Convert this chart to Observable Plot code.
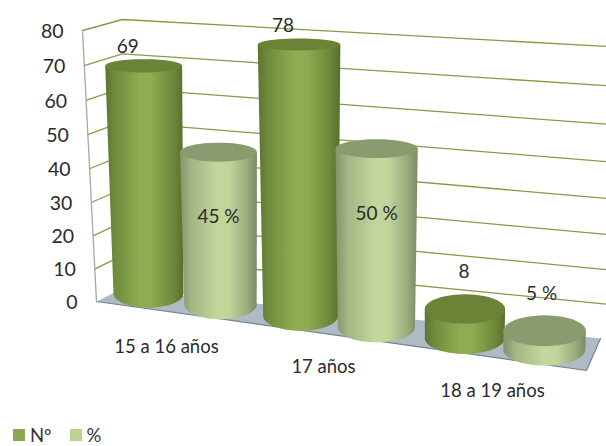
<!DOCTYPE html>
<html><head><meta charset="utf-8">
<script src="https://cdn.jsdelivr.net/npm/d3@7"></script>
<script src="https://cdn.jsdelivr.net/npm/@observablehq/plot@0.6"></script>
<style>
html,body{margin:0;padding:0;background:#fff;overflow:hidden}
svg{display:block}
#legend{display:flex;align-items:center;height:22px;font:18.5px Lato,sans-serif;color:#333;padding-left:13px}
#legend i{display:inline-block;width:12px;height:12px;margin-right:5px}
#legend span{margin-right:18px}
</style></head><body>
<div id="chart"></div>
<div id="legend"></div>
<script>
// ---- data ----
const categories = ["15 a 16 años", "17 años", "18 a 19 años"];
const seriesNames = ["Nº", "%"];
const counts = [69, 78, 8];
const percents = [45, 50, 5];
const yTicks = [0, 10, 20, 30, 40, 50, 60, 70, 80];

// ---- styles ----
const W = 606, H = 424;
const font = "Lato, sans-serif";
const textColor = "#2b2b2b";
const gridColor = "#8a9a45";
const wallColor = "#a8a8a8";
const floorColor = "#aebac6";
const floorEdge = "#76848c";
const stops = [
  [["0%", "#5c7530"], ["12%", "#6f8b3c"], ["45%", "#8fae53"], ["60%", "#8dab50"], ["88%", "#6c8739"], ["100%", "#566f2c"]],
  [["0%", "#83946b"], ["15%", "#a3b684"], ["50%", "#c4d89c"], ["65%", "#c0d398"], ["88%", "#98a97c"], ["100%", "#7b8b63"]]
];
const topFill = ["#6a8337", "#8a9b6f"];

// ---- oblique 3D projection of the chart box onto the page ----
const tOf = v => (80 - v) / 10;
const wallFront = v => { const t = tOf(v); return {x: 82 + 1.75 * t, y: 30 + 35.2 * t - 0.16 * t * t}; };
const wallRear = v => { const t = tOf(v); return {x: 122 - 0.25 * t, y: 19 + 34.5 * t - 0.1 * t * t}; };
const wallRight = v => { const t = tOf(v); return {x: W, y: 46 + 39.6 * t - 0.4 * t * t}; };
const floorQuad = [{x: 96, y: 301}, {x: 120, y: 289}, {x: 600, y: 338}, {x: 586, y: 370}, {x: 96, y: 301}];

const groupX = c => 184 + 148 * c + 6 * c * c;
const cylinder = (c, s, v) => {
  const i = c * 2 + s;
  const halfGap = 36 + 1.9 * c;
  const xB = groupX(c) + (s ? halfGap : -halfGap);
  const yB = 293 + 11.2 * i;
  const yT = yB - v * (3.3 + 0.09 * i);
  const xT = xB + v * (-0.07 + 0.025 * i);
  const rxB = 35 + 1.2 * i;
  const rxT = rxB + 0.05 * v;
  const ry = y => 4.5 + 0.033 * y;
  return {xB, yB, xT, yT, rxB, rxT, ryB: ry(yB), ryT: ry(yT)};
};
const arc = (cx, cy, rx, ry, a0, a1, n = 48) =>
  d3.range(n + 1).map(k => {
    const a = a0 + (a1 - a0) * k / n;
    return {x: cx + rx * Math.cos(a), y: cy + ry * Math.sin(a)};
  });

const cylMarks = [];
const labelData = [];
const valueLabels = [
  {c: 0, s: 0, v: counts[0]}, {c: 0, s: 1, v: percents[0]},
  {c: 1, s: 0, v: counts[1]}, {c: 1, s: 1, v: percents[1]},
  {c: 2, s: 0, v: counts[2]}, {c: 2, s: 1, v: percents[2]}
];
valueLabels.forEach(({c, s, v}) => {
  const g = cylinder(c, s, v);
  const body = [
    {x: g.xT - g.rxT, y: g.yT},
    ...arc(g.xB, g.yB, g.rxB, g.ryB, Math.PI, 0),
    {x: g.xT + g.rxT, y: g.yT}
  ];
  cylMarks.push(Plot.line(body, {x: "x", y: "y", fill: `url(#cyl${s})`, stroke: "none"}));
  cylMarks.push(Plot.line(arc(g.xT, g.yT, g.rxT, g.ryT, 0, 2 * Math.PI), {x: "x", y: "y", fill: topFill[s], stroke: "none"}));
  // label placement: percentages of the tall bars sit inside, everything else above
  const inside = s === 1 && v > 20;
  const tall = v > 20;
  labelData.push({
    text: s ? `${v} %` : `${v}`,
    x: inside ? g.xT : g.xT - (tall ? 16 : 1 + 2 * s),
    y: inside ? g.yT + 65 : g.yT - (tall ? 19 : 37)
  });
});

const gridData = yTicks.filter(v => v > 0).flatMap(v =>
  [wallFront(v), wallRear(v), wallRight(v)].map(p => ({...p, v})));

const defs = () => {
  const d = d3.create("svg:defs");
  stops.forEach((st, k) => {
    const g = d.append("linearGradient").attr("id", `cyl${k}`).attr("x1", 0).attr("x2", 1).attr("y1", 0).attr("y2", 0);
    st.forEach(([o, col]) => g.append("stop").attr("offset", o).attr("stop-color", col));
  });
  return d.node();
};

const chart = Plot.plot({
  width: W, height: H,
  margin: 0,
  x: {domain: [0, W], range: [0, W], axis: null},
  y: {domain: [0, H], range: [0, H], axis: null},
  marks: [
    defs,
    Plot.line(floorQuad, {x: "x", y: "y", fill: floorColor, stroke: "none"}),
    Plot.line(floorQuad.slice(2, 5), {x: "x", y: "y", stroke: floorEdge, strokeWidth: 1.2}),
    Plot.line(gridData, {x: "x", y: "y", z: "v", stroke: gridColor, strokeWidth: 1.3}),
    Plot.line([wallFront(80), wallFront(0)], {x: "x", y: "y", stroke: wallColor, strokeWidth: 1.3}),
    ...cylMarks,
    Plot.text(yTicks, {
      x: v => wallFront(v).x - 19, y: v => wallFront(v).y + 1,
      text: d => String(d), textAnchor: "end",
      fontSize: 19.5, fontFamily: font, fill: textColor
    }),
    Plot.text(labelData, {x: "x", y: "y", text: "text", fontSize: 19, fontFamily: font, fill: textColor}),
    Plot.text(categories, {
      x: (d, c) => groupX(c) - 18 + 3 * c,
      y: (d, c) => 347 + 17 * c + 2.5 * c * c,
      text: d => d, fontSize: 18.5, fontFamily: font, fill: textColor
    })
  ]
});
document.getElementById("chart").append(chart);

const legendColors = ["#8aa84f", "#bdd197"];
document.getElementById("legend").innerHTML = seriesNames
  .map((n, k) => `<i style="background:${legendColors[k]}"></i><span>${n}</span>`).join("");
</script>
</body></html>
